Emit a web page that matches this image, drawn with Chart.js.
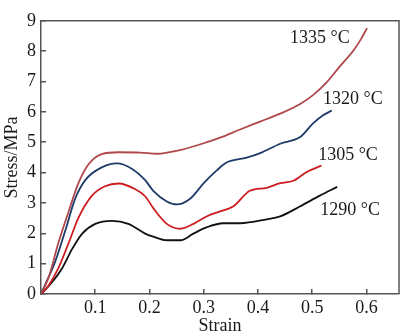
<!DOCTYPE html>
<html>
<head>
<meta charset="utf-8">
<script src="https://cdn.jsdelivr.net/npm/chart.js@4.4.0/dist/chart.umd.min.js"></script>
<style>
  html, body { margin: 0; padding: 0; background: #fff; }
  #wrap { width: 400px; height: 333px; position: relative; }
</style>
</head>
<body>
<div id="wrap"><canvas id="chart"></canvas></div>
<script>
// Curvas tensión-deformación a distintas temperaturas
const temps = ['1335 °C', '1320 °C', '1305 °C', '1290 °C'];
const lineColors = ['#b0474b', '#1f3c69', '#cc1d20', '#111111'];

const strain1335 = [0, 0.014, 0.032, 0.051, 0.069, 0.088, 0.112, 0.143, 0.183, 0.214, 0.256, 0.306, 0.330, 0.367, 0.404, 0.441, 0.477, 0.502, 0.527, 0.551, 0.576, 0.591, 0.601];
const stress1335 = [0, 0.54, 1.68, 2.72, 3.65, 4.28, 4.61, 4.67, 4.66, 4.62, 4.74, 5.0, 5.15, 5.42, 5.68, 5.94, 6.25, 6.56, 6.98, 7.50, 8.02, 8.43, 8.76];

const strain1320 = [0, 0.011, 0.026, 0.045, 0.063, 0.082, 0.112, 0.140, 0.168, 0.192, 0.207, 0.232, 0.250, 0.275, 0.300, 0.324, 0.342, 0.379, 0.404, 0.441, 0.477, 0.502, 0.520, 0.536];
const stress1320 = [0, 0.44, 1.06, 2.10, 3.14, 3.76, 4.17, 4.30, 4.12, 3.75, 3.40, 3.05, 2.95, 3.14, 3.65, 4.07, 4.33, 4.49, 4.64, 4.95, 5.16, 5.63, 5.89, 6.04];

const strain1305 = [0, 0.014, 0.032, 0.051, 0.069, 0.094, 0.118, 0.143, 0.174, 0.192, 0.207, 0.232, 0.257, 0.281, 0.306, 0.330, 0.354, 0.385, 0.416, 0.441, 0.465, 0.490, 0.517];
const stress1305 = [0, 0.28, 0.85, 1.68, 2.51, 3.24, 3.55, 3.64, 3.45, 3.22, 2.83, 2.31, 2.15, 2.31, 2.56, 2.72, 2.88, 3.40, 3.50, 3.65, 3.73, 4.02, 4.23];

const strain1290 = [0, 0.020, 0.039, 0.057, 0.076, 0.100, 0.131, 0.161, 0.192, 0.207, 0.232, 0.257, 0.281, 0.306, 0.336, 0.367, 0.416, 0.441, 0.477, 0.514, 0.546];
const stress1290 = [0, 0.38, 0.85, 1.47, 1.99, 2.31, 2.41, 2.31, 1.99, 1.89, 1.77, 1.77, 1.99, 2.20, 2.33, 2.33, 2.46, 2.56, 2.88, 3.24, 3.53];

// Posición de las etiquetas de temperatura (en unidades de datos)
const labelStrain = [0.514, 0.575, 0.566, 0.570];
const labelStress = [8.44, 6.42, 4.58, 2.77];

const strains = [strain1335, strain1320, strain1305, strain1290];
const stresses = [stress1335, stress1320, stress1305, stress1290];

const serif = 'Liberation Serif, Times New Roman, serif';
const axisColor = '#555';

// Marco superior y derecho + etiquetas
const framePlugin = {
    id: 'frame',
    afterDraw(chart) {
        const { ctx, chartArea, scales } = chart;
        ctx.save();
        ctx.strokeStyle = axisColor;
        ctx.lineWidth = 1.5;
        ctx.beginPath();
        ctx.moveTo(chartArea.left, chartArea.top);
        ctx.lineTo(chartArea.right, chartArea.top);
        ctx.lineTo(chartArea.right, chartArea.bottom);
        ctx.stroke();

        ctx.fillStyle = '#1a1a1a';
        ctx.font = '18px ' + serif;
        ctx.textAlign = 'center';
        ctx.textBaseline = 'middle';
        temps.forEach((t, i) => {
            ctx.fillText(t, scales.x.getPixelForValue(labelStrain[i]), scales.y.getPixelForValue(labelStress[i]));
        });
        ctx.restore();
    }
};

new Chart(document.getElementById('chart'), {
    type: 'line',
    data: {
        datasets: temps.map((t, i) => ({
            label: t,
            data: strains[i].map((x, j) => ({ x: x, y: stresses[i][j] })),
            borderColor: lineColors[i],
            borderWidth: 1.8,
            pointRadius: 0,
            fill: false,
            cubicInterpolationMode: 'monotone'
        }))
    },
    options: {
        responsive: true,
        maintainAspectRatio: false,
        animation: false,
        layout: { padding: { left: 0, right: 1, top: 5, bottom: 0 } },
        plugins: {
            legend: { display: false },
            tooltip: { enabled: false }
        },
        scales: {
            x: {
                type: 'linear',
                min: 0,
                max: 0.66,
                border: { color: axisColor, width: 1.5 },
                grid: { drawOnChartArea: false, tickLength: -5, color: axisColor, lineWidth: 1.5 },
                ticks: {
                    stepSize: 0.1,
                    includeBounds: false,
                    padding: 8,
                    color: '#1a1a1a',
                    font: { family: serif, size: 18 },
                    callback: v => v === 0 ? '' : v.toFixed(1)
                },
                title: {
                    display: true,
                    text: 'Strain',
                    color: '#1a1a1a',
                    font: { family: serif, size: 18, lineHeight: 0.8 },
                    padding: { top: 0, bottom: 0 }
                },
                afterFit(scale) { scale.height = 39; }
            },
            y: {
                min: 0,
                max: 9,
                border: { color: axisColor, width: 1.5 },
                grid: { drawOnChartArea: false, tickLength: -5, color: axisColor, lineWidth: 1.5 },
                ticks: {
                    stepSize: 1,
                    padding: 10,
                    color: '#1a1a1a',
                    font: { family: serif, size: 18 }
                },
                title: {
                    display: true,
                    text: 'Stress/MPa',
                    color: '#1a1a1a',
                    font: { family: serif, size: 18 },
                    padding: { top: 1, bottom: 0 }
                },
                afterFit(scale) { scale.width = 41; }
            }
        }
    },
    plugins: [framePlugin]
});
</script>
</body>
</html>
